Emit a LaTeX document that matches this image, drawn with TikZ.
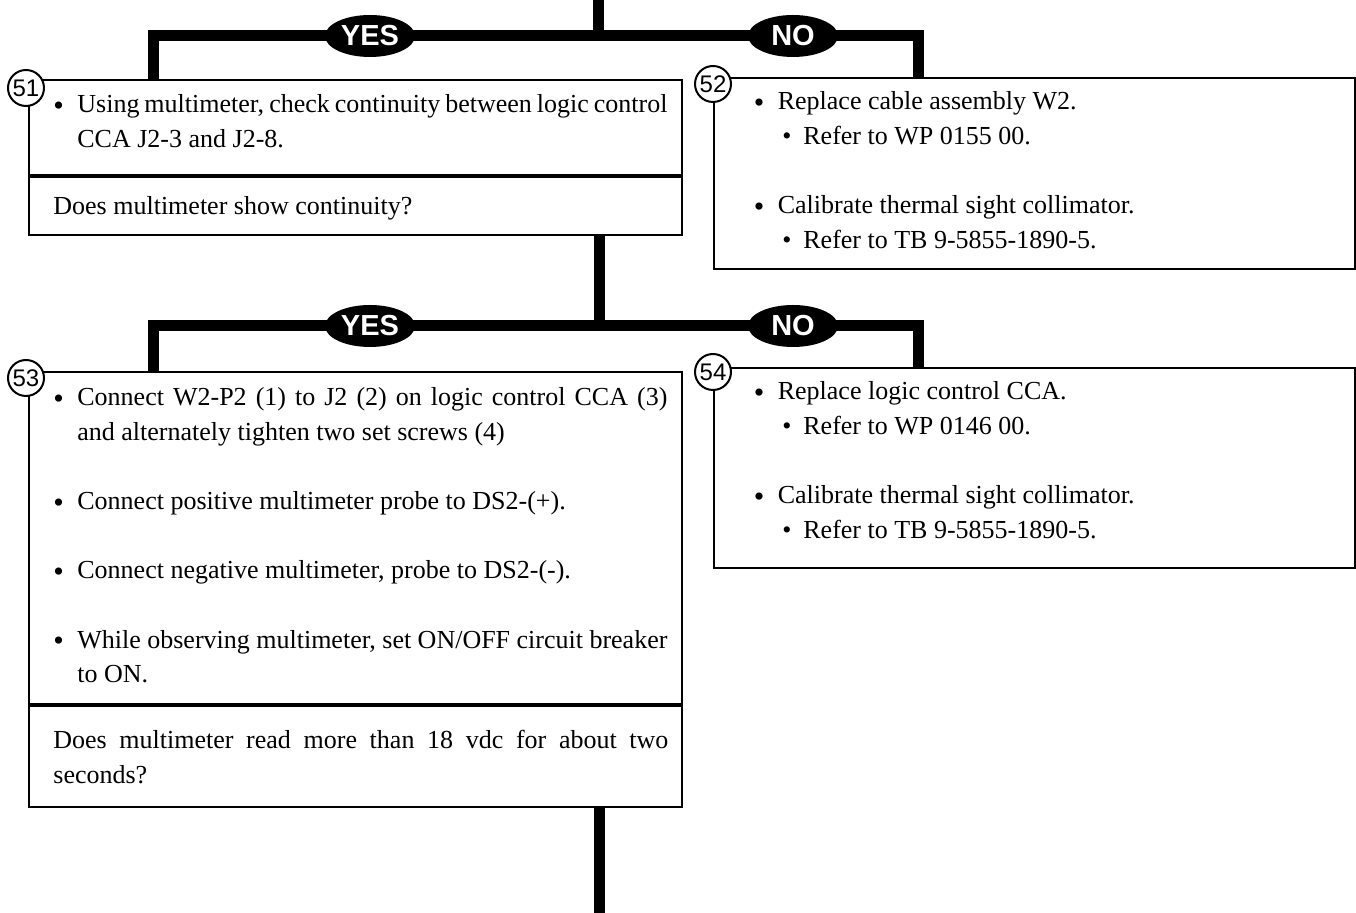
\documentclass[tikz,border=0pt]{standalone}
\usepackage{fontspec}
\setmainfont{Liberation Serif}
\setsansfont{Liberation Sans}
\usetikzlibrary{shapes.geometric,positioning,calc}

\newlength{\bulw}\setlength{\bulw}{12pt}
\newlength{\itemgap}\setlength{\itemgap}{17.3pt}
\newcommand{\stepline}[1]{{\hangindent=\bulw\hangafter=1\makebox[\bulw][l]{\raisebox{-1.2pt}{\fontsize{15}{15}\selectfont\textbullet}}#1\par}}
\newcommand{\refline}[1]{{\hspace*{14.3pt}\makebox[10.5pt][l]{\textbullet}#1\par}}
\newcommand{\gapline}{\vspace{\itemgap}}

\begin{document}
\begin{tikzpicture}[
    x=0.5pt, y=-0.5pt,
    trunk/.style={line width=5.5pt, line join=miter, draw=black},
    frame/.style={draw, line width=1pt, anchor=north west, inner sep=0pt,
                  minimum width=326.5pt},
    wideframe/.style={frame, minimum width=320.5pt},
    decision/.style={ellipse, fill=black, text=white, inner sep=0pt,
                     minimum width=45pt, minimum height=21pt,
                     font=\sffamily\bfseries\fontsize{14.5}{14.5}\selectfont},
    stepnum/.style={circle, draw, fill=white, line width=1pt, minimum size=18pt,
                    inner sep=0pt, font=\sffamily\fontsize{12}{12}\selectfont},
    body/.style={anchor=base west, inner sep=0pt, align=justify, text width=307pt,
                 font=\fontsize{13}{17.3}\selectfont\setlength{\parindent}{0pt}},
    ask/.style={body, text width=307.5pt},
    fix/.style={body, text width=280pt},
  ]
  \useasboundingbox (0,0) rectangle (1356,913);

  \coordinate (top) at (598,0);
  \coordinate (l1) at (153,36);
  \coordinate (r1) at (918,36);
  \coordinate (l2) at (153,326);
  \coordinate (r2) at (918,326);
  \coordinate (bot) at (599,913);

  \node[frame, minimum height=47.5pt] (b51) at (28,79) {};
  \node[frame, minimum height=29pt] (q51) at (b51.south west) {};
  \node[wideframe, minimum height=95.5pt] (b52) at (713,77) {};
  \node[frame, minimum height=166pt] (b53) at (28,371) {};
  \node[frame, minimum height=50.5pt] (q53) at (b53.south west) {};
  \node[wideframe, minimum height=100pt] (b54) at (713,367) {};

  \node[body] (t51) at ([xshift=12.5pt,yshift=-17pt]b51.north west)
       {\stepline{Using multimeter, check continuity between logic control\linebreak CCA J2-3 and J2-8.}};
  \node[ask] (a51) at ([xshift=12.5pt,yshift=-19.5pt]q51.north west)
       {Does multimeter show continuity?};
  \node[fix] (t52) at ([xshift=20.2pt,yshift=-16.5pt]b52.north west)
       {\stepline{Replace cable assembly W2.}\refline{Refer to WP 0155 00.}\gapline
        \stepline{Calibrate thermal sight collimator.}\refline{Refer to TB 9-5855-1890-5.}};
  \node[body] (t53) at ([xshift=12.5pt,yshift=-17.5pt]b53.north west)
       {\stepline{Connect W2-P2 (1) to J2 (2) on logic control CCA (3)\linebreak and alternately tighten two set screws (4)}\gapline
        \stepline{Connect positive multimeter probe to DS2-(+).}\gapline
        \stepline{Connect negative multimeter, probe to DS2-(-).}\gapline
        \stepline{While observing multimeter, set ON/OFF circuit breaker\linebreak to ON.}};
  \node[ask] (a53) at ([xshift=12.5pt,yshift=-22pt]q53.north west)
       {Does multimeter read more than 18 vdc for about two\linebreak seconds?};
  \node[fix] (t54) at ([xshift=20.2pt,yshift=-16.5pt]b54.north west)
       {\stepline{Replace logic control CCA.}\refline{Refer to WP 0146 00.}\gapline
        \stepline{Calibrate thermal sight collimator.}\refline{Refer to TB 9-5855-1890-5.}};

  \draw[trunk] (top) -- (top |- l1);
  \draw[trunk] (l1 |- b51.north) -- (l1) -- (r1) -- (r1 |- b52.north);
  \draw[trunk] (q51.south -| bot) -- (bot |- l2);
  \draw[trunk] (l2 |- b53.north) -- (l2) -- (r2) -- (r2 |- b54.north);
  \draw[trunk] (q53.south -| bot) -- (bot);

  \node[decision] (yes1) at (370,36) {YES};
  \node[decision] (no1) at (793,36) {NO};
  \node[decision] (yes2) at (370,326) {YES};
  \node[decision] (no2) at (793,326) {NO};

  \node[stepnum] (n51) at ([xshift=-1pt,yshift=-4.5pt]b51.north west) {51};
  \node[stepnum] (n52) at ([yshift=-3.5pt]b52.north west) {52};
  \node[stepnum] (n53) at ([xshift=-1pt,yshift=-3.5pt]b53.north west) {53};
  \node[stepnum] (n54) at ([yshift=-2.5pt]b54.north west) {54};

\end{tikzpicture}
\end{document}
